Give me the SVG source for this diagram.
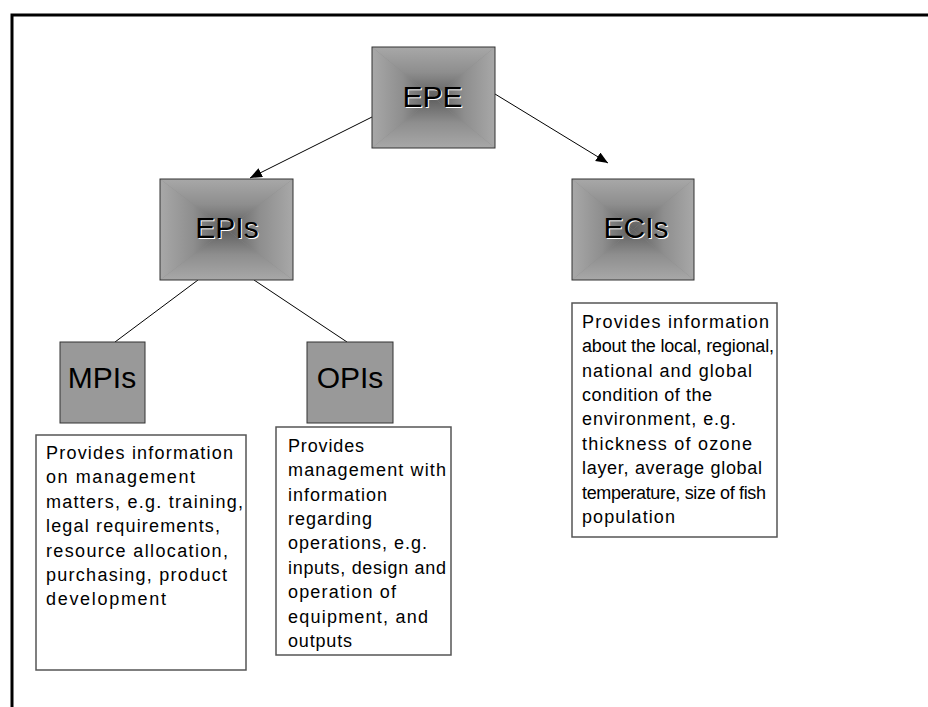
<svg xmlns="http://www.w3.org/2000/svg" width="928" height="707" viewBox="0 0 928 707">
<defs>
<style>
.lbl{font-family:"Liberation Sans",Arial,sans-serif;font-size:30px;text-anchor:middle}
.sh{fill:#ffffff}
.fg{fill:#000000}
.txt{font-family:"Liberation Sans",Arial,sans-serif;font-size:18px;fill:#000}
.tbox{fill:#ffffff;stroke:#555;stroke-width:1.5}
.flat{fill:#999999;stroke:#333;stroke-width:1}
.edge{fill:none;stroke:#333;stroke-width:1}
.base{fill:#8a8a8a}
.conn line{stroke:#000;stroke-width:1}
</style>
<linearGradient id="gT" x1="0" y1="0" x2="0" y2="1"><stop offset="0" stop-color="#a8a8a8"/><stop offset="0.5" stop-color="#8e8e8e"/><stop offset="1" stop-color="#5e5e5e"/></linearGradient>
<linearGradient id="gB" x1="0" y1="1" x2="0" y2="0"><stop offset="0" stop-color="#a8a8a8"/><stop offset="0.5" stop-color="#8e8e8e"/><stop offset="1" stop-color="#5e5e5e"/></linearGradient>
<linearGradient id="gL" x1="0" y1="0" x2="1" y2="0"><stop offset="0" stop-color="#a8a8a8"/><stop offset="0.5" stop-color="#8e8e8e"/><stop offset="1" stop-color="#5e5e5e"/></linearGradient>
<linearGradient id="gR" x1="1" y1="0" x2="0" y2="0"><stop offset="0" stop-color="#a8a8a8"/><stop offset="0.5" stop-color="#8e8e8e"/><stop offset="1" stop-color="#5e5e5e"/></linearGradient>
<marker id="ah" markerUnits="userSpaceOnUse" markerWidth="13" markerHeight="11" refX="12" refY="5" orient="auto"><path d="M0,0 L12,5 L0,10 z" fill="#000"/></marker>
</defs>
<rect x="0" y="0" width="928" height="707" fill="#fff"/>
<g id="frame"><path d="M12,707 V15 H928" fill="none" stroke="#000" stroke-width="3"/></g>

<g id="connectors" class="conn">
<line x1="372" y1="117" x2="250" y2="178" marker-end="url(#ah)"/>
<line x1="495" y1="94" x2="608" y2="163" marker-end="url(#ah)"/>
<line x1="198" y1="280" x2="115" y2="342"/>
<line x1="254" y1="280" x2="347" y2="342"/>
</g>

<g id="EPE">
<rect x="372" y="47" width="123" height="101" class="base"/>
<polygon points="372,47 495,47 433.5,97.5" fill="url(#gT)"/>
<polygon points="372,148 495,148 433.5,97.5" fill="url(#gB)"/>
<polygon points="372,47 372,148 433.5,97.5" fill="url(#gL)"/>
<polygon points="495,47 495,148 433.5,97.5" fill="url(#gR)"/>
<rect x="372" y="47" width="123" height="101" class="edge"/>
<text class="lbl sh" x="433.5" y="108">EPE</text>
<text class="lbl fg" x="432.5" y="107">EPE</text>
</g>

<g id="EPIs">
<rect x="160" y="179" width="133" height="101" class="base"/>
<polygon points="160,179 293,179 226.5,229.5" fill="url(#gT)"/>
<polygon points="160,280 293,280 226.5,229.5" fill="url(#gB)"/>
<polygon points="160,179 160,280 226.5,229.5" fill="url(#gL)"/>
<polygon points="293,179 293,280 226.5,229.5" fill="url(#gR)"/>
<rect x="160" y="179" width="133" height="101" class="edge"/>
<text class="lbl sh" x="228" y="239">EPIs</text>
<text class="lbl fg" x="227" y="238">EPIs</text>
</g>

<g id="ECIs">
<rect x="572" y="179" width="122" height="101" class="base"/>
<polygon points="572,179 694,179 633,229.5" fill="url(#gT)"/>
<polygon points="572,280 694,280 633,229.5" fill="url(#gB)"/>
<polygon points="572,179 572,280 633,229.5" fill="url(#gL)"/>
<polygon points="694,179 694,280 633,229.5" fill="url(#gR)"/>
<rect x="572" y="179" width="122" height="101" class="edge"/>
<text class="lbl sh" x="637" y="239">ECIs</text>
<text class="lbl fg" x="636" y="238">ECIs</text>
</g>

<g id="MPIs">
<rect x="60" y="342" width="85" height="81" class="flat"/>
<text class="lbl fg" x="102" y="388">MPIs</text>
</g>

<g id="OPIs">
<rect x="307" y="342" width="86" height="81" class="flat"/>
<text class="lbl fg" x="350" y="388">OPIs</text>
</g>

<g id="MPIs-desc">
<rect x="36" y="435" width="210" height="235" class="tbox"/>
<text class="txt" lengthAdjust="spacingAndGlyphs">
<tspan x="46" y="459" textLength="187">Provides information</tspan>
<tspan x="46" y="483.4" textLength="149">on management</tspan>
<tspan x="46" y="507.8" textLength="197">matters, e.g. training,</tspan>
<tspan x="46" y="532.2" textLength="174">legal requirements,</tspan>
<tspan x="46" y="556.6" textLength="182">resource allocation,</tspan>
<tspan x="46" y="581" textLength="181">purchasing, product</tspan>
<tspan x="46" y="605.4" textLength="120">development</tspan>
</text>
</g>

<g id="OPIs-desc">
<rect x="276" y="427" width="175" height="228" class="tbox"/>
<text class="txt" lengthAdjust="spacingAndGlyphs">
<tspan x="288" y="451.7" textLength="76">Provides</tspan>
<tspan x="288" y="476.1" textLength="158">management with</tspan>
<tspan x="288" y="500.5" textLength="99">information</tspan>
<tspan x="288" y="524.9" textLength="84">regarding</tspan>
<tspan x="288" y="549.3" textLength="139">operations, e.g.</tspan>
<tspan x="288" y="573.7" textLength="158">inputs, design and</tspan>
<tspan x="288" y="598.1" textLength="108">operation of</tspan>
<tspan x="288" y="622.5" textLength="140">equipment, and</tspan>
<tspan x="288" y="646.9" textLength="64">outputs</tspan>
</text>
</g>

<g id="ECIs-desc">
<rect x="572" y="303" width="205" height="234" class="tbox"/>
<text class="txt" lengthAdjust="spacingAndGlyphs">
<tspan x="582" y="327.7" textLength="187">Provides information</tspan>
<tspan x="582" y="352.1" textLength="192">about the local, regional,</tspan>
<tspan x="582" y="376.5" textLength="170">national and global</tspan>
<tspan x="582" y="400.9" textLength="130">condition of the</tspan>
<tspan x="582" y="425.3" textLength="154">environment, e.g.</tspan>
<tspan x="582" y="449.7" textLength="170">thickness of ozone</tspan>
<tspan x="582" y="474.1" textLength="180">layer, average global</tspan>
<tspan x="582" y="498.5" textLength="184">temperature, size of fish</tspan>
<tspan x="582" y="522.9" textLength="93">population</tspan>
</text>
</g>
</svg>
